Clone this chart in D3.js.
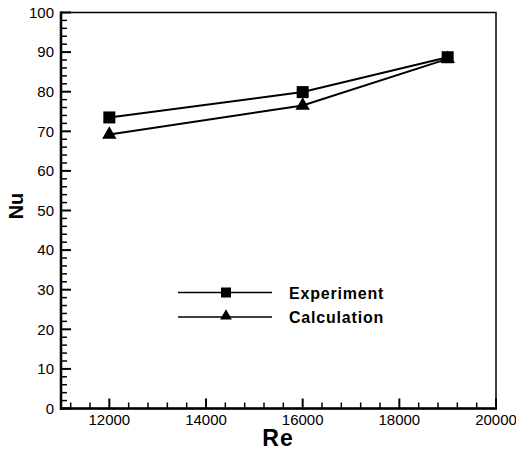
<!DOCTYPE html>
<html>
<head>
<meta charset="utf-8">
<script src="https://cdn.jsdelivr.net/npm/d3@7"></script>
<style>
  body { margin: 0; background: #fff; }
  text { font-family: "Liberation Sans", Arial, sans-serif; }
</style>
</head>
<body>
<svg id="chart" width="516" height="450"></svg>
<script>
// data
const reValues = [12000, 16000, 19000];
const experiment = [73.5, 79.9, 88.7];
const calculation = [69.2, 76.5, 88.3];
const xTicks = [12000, 14000, 16000, 18000, 20000];
const yTicks = [0, 10, 20, 30, 40, 50, 60, 70, 80, 90, 100];

const svg = d3.select("#chart");
const pLeft = 61, pRight = 496, pTop = 12.5, pBottom = 408.5;

const x = d3.scaleLinear().domain([11000, 20000]).range([pLeft, pRight]);
const y = d3.scaleLinear().domain([0, 100]).range([pBottom, pTop]);

// frame
svg.append("rect")
    .attr("x", pLeft).attr("y", pTop)
    .attr("width", pRight - pLeft).attr("height", pBottom - pTop)
    .attr("fill", "none").attr("stroke", "#000").attr("stroke-width", 1.5);

// minor ticks
const xMinor = d3.range(11200, 20000, 400).filter(v => v % 2000 !== 0);
const yMinor = d3.range(2, 100, 2).filter(v => v % 10 !== 0);

const ticks = svg.append("g").attr("stroke", "#000");
ticks.selectAll(".xmin").data(xMinor).enter().append("line")
    .attr("x1", d => x(d)).attr("x2", d => x(d))
    .attr("y1", pBottom).attr("y2", pBottom - 6).attr("stroke-width", 1.5);
ticks.selectAll(".xmaj").data(xTicks).enter().append("line")
    .attr("x1", d => x(d)).attr("x2", d => x(d))
    .attr("y1", pBottom).attr("y2", pBottom - 10).attr("stroke-width", 2);
ticks.selectAll(".ymin").data(yMinor).enter().append("line")
    .attr("y1", d => y(d)).attr("y2", d => y(d))
    .attr("x1", pLeft).attr("x2", pLeft + 6).attr("stroke-width", 1.5);
ticks.selectAll(".ymaj").data(yTicks).enter().append("line")
    .attr("y1", d => y(d)).attr("y2", d => y(d))
    .attr("x1", pLeft).attr("x2", pLeft + 10).attr("stroke-width", 2);

// thicker left and bottom axis lines
svg.append("line").attr("x1", pLeft).attr("x2", pLeft).attr("y1", pTop - 1).attr("y2", pBottom + 1.5)
    .attr("stroke", "#000").attr("stroke-width", 2.5);
svg.append("line").attr("x1", pLeft - 1).attr("x2", pRight + 1).attr("y1", pBottom).attr("y2", pBottom)
    .attr("stroke", "#000").attr("stroke-width", 2.5);

// tick labels
svg.selectAll(".xl").data(xTicks).enter().append("text")
    .attr("x", d => x(d)).attr("y", pBottom + 16)
    .attr("text-anchor", "middle").style("font-size", "15px")
    .text(d => d);
svg.selectAll(".yl").data(yTicks).enter().append("text")
    .attr("x", pLeft - 7).attr("y", d => y(d) + 5.3)
    .attr("text-anchor", "end").style("font-size", "15px")
    .text(d => d);

// axis titles
svg.append("text").attr("x", 278).attr("y", 446)
    .attr("text-anchor", "middle").style("font-size", "23px").style("font-weight", "bold")
    .style("letter-spacing", "1px")
    .text("Re");
svg.append("text").attr("transform", `translate(23,206) rotate(-90)`)
    .attr("text-anchor", "middle").style("font-size", "20px").style("font-weight", "bold")
    .text("Nu");

// series
const line = d3.line().x((d, i) => x(reValues[i])).y(d => y(d));
const triangle = d3.symbol().type(d3.symbolTriangle).size(90);

svg.append("path").datum(calculation).attr("d", line)
    .attr("fill", "none").attr("stroke", "#000").attr("stroke-width", 2);
svg.append("path").datum(experiment).attr("d", line)
    .attr("fill", "none").attr("stroke", "#000").attr("stroke-width", 2);

svg.selectAll(".sq").data(experiment).enter().append("rect")
    .attr("x", (d, i) => x(reValues[i]) - 6).attr("y", d => y(d) - 6)
    .attr("width", 12).attr("height", 12).attr("fill", "#000");
svg.selectAll(".tri").data(calculation).enter().append("path")
    .attr("d", triangle)
    .attr("transform", (d, i) => `translate(${x(reValues[i])},${y(d)})`)
    .attr("fill", "#000");

// legend
const legend = svg.append("g");
const items = [{ name: "Experiment", type: "square", ly: 292.5 }, { name: "Calculation", type: "triangle", ly: 317 }];
items.forEach(it => {
    legend.append("line").attr("x1", 178).attr("x2", 272).attr("y1", it.ly).attr("y2", it.ly)
        .attr("stroke", "#000").attr("stroke-width", 1.5);
    if (it.type === "square") {
        legend.append("rect").attr("x", 221).attr("y", it.ly - 5).attr("width", 10).attr("height", 10).attr("fill", "#000");
    } else {
        legend.append("path").attr("d", d3.symbol().type(d3.symbolTriangle).size(60))
            .attr("transform", `translate(226,${it.ly - 1})`).attr("fill", "#000");
    }
    legend.append("text").attr("x", 289).attr("y", it.ly + 6)
        .style("font-size", "16px").style("font-weight", "bold")
        .style("letter-spacing", "0.8px").text(it.name);
});
</script>
</body>
</html>
